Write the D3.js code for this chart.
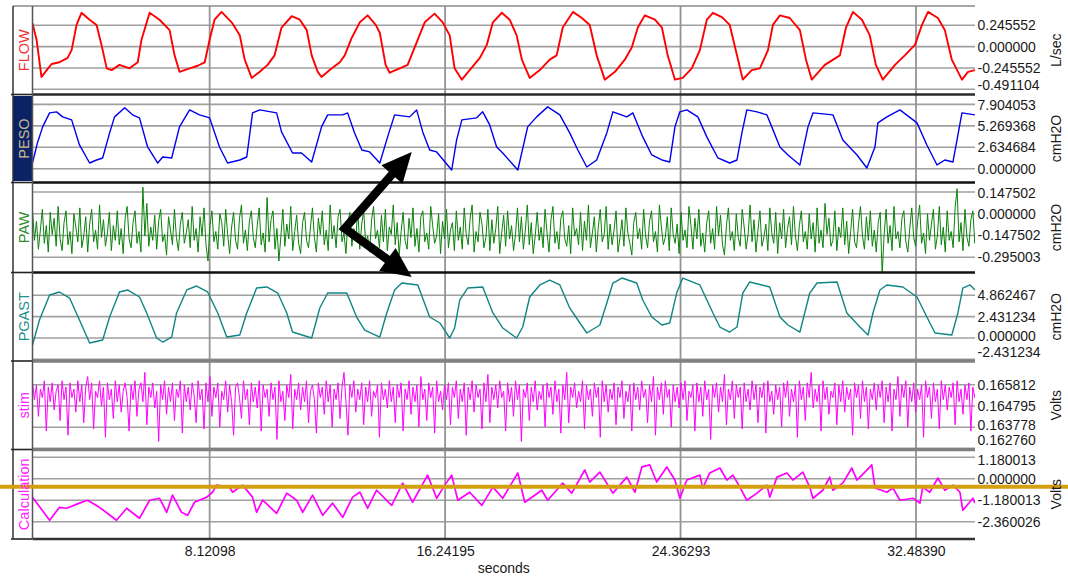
<!DOCTYPE html>
<html>
<head>
<meta charset="utf-8">
<script src="https://cdn.jsdelivr.net/npm/d3@7"></script>
<style>
  body { margin: 0; background: #fff; }
  svg { display: block; font-family: "Liberation Sans", Arial, sans-serif; }
</style>
</head>
<body>
<svg id="chart" width="1068" height="577"></svg>
<script>
/* ---------------- data ---------------- */

const timeRange = [2.01, 34.52]
const timeTicks = [8.12098, 16.24195, 24.36293, 32.48390]

const flowTicks = [0.245552, 0, -0.245552, -0.491104]
const pesoTicks = [7.904053, 5.269368, 2.634684, 0]
const pawTicks = [0.147502, 0, -0.147502, -0.295003]
const pgastTicks = [4.862467, 2.431234, 0, -2.431234]
const stimTicks = [0.165812, 0.164795, 0.163778, 0.162760]
const calcTicks = [1.180013, 0, -1.180013, -2.360026]

// [seconds, L/sec]
const flowData = [[2.01,.27],[2.15,.08],[2.32,-.35],[2.50,-.27],[2.67,-.20],[2.94,-.18],[3.22,-.13],[3.36,-.04],[3.53,.25],[3.70,.39],[3.98,.31],[4.22,.25],[4.39,.02],[4.57,-.25],[4.74,-.27],[5.01,-.21],[5.36,-.25],[5.64,-.18],[5.77,.08],[6.05,.39],[6.39,.31],[6.74,.19],[6.91,-.10],[7.08,-.29],[7.43,-.25],[7.71,-.22],[7.95,-.18],[8.12,.08],[8.29,.31],[8.53,.40],[8.88,.28],[9.16,.13],[9.33,-.15],[9.57,-.36],[9.85,-.29],[10.12,-.21],[10.36,-.10],[10.60,.22],[10.95,.35],[11.23,.31],[11.47,.19],[11.64,-.10],[11.85,-.29],[11.98,-.35],[12.26,-.27],[12.61,-.18],[12.78,-.10],[13.02,.10],[13.30,.28],[13.57,.36],[13.85,.25],[13.99,.16],[14.19,-.21],[14.33,-.30],[14.68,-.25],[14.95,-.21],[15.30,.08],[15.54,.28],[15.88,.38],[16.16,.28],[16.40,.13],[16.57,-.25],[16.82,-.38],[17.09,-.27],[17.44,-.13],[17.68,.02],[17.89,.28],[18.20,.39],[18.47,.31],[18.71,.13],[18.89,-.15],[19.16,-.36],[19.51,-.27],[19.85,-.15],[20.09,-.10],[20.30,.22],[20.65,.40],[20.96,.33],[21.23,.25],[21.47,-.10],[21.75,-.38],[22.10,-.29],[22.44,-.15],[22.68,-.01],[22.89,.22],[23.13,.36],[23.48,.31],[23.72,.22],[23.92,-.10],[24.17,-.38],[24.44,-.36],[24.75,-.25],[25.03,-.04],[25.27,.31],[25.48,.39],[25.79,.34],[26.06,.25],[26.31,-.10],[26.51,-.38],[26.82,-.27],[27.10,-.25],[27.38,-.04],[27.55,.25],[27.79,.36],[28.13,.33],[28.48,.19],[28.69,-.15],[28.89,-.38],[29.34,-.21],[29.86,-.10],[30.07,.22],[30.31,.40],[30.62,.31],[30.89,.13],[31.10,-.21],[31.34,-.38],[31.76,-.21],[32.10,-.10],[32.45,.02],[32.69,.25],[32.90,.40],[33.24,.33],[33.48,.19],[33.72,-.15],[34.07,-.38],[34.28,-.29],[34.52,-.27]]

// [seconds, cmH2O]
const pesoData = [[2.01,.70],[2.18,3.17],[2.36,5.14],[2.60,6.86],[2.84,6.99],[3.05,6.37],[3.36,6.00],[3.63,2.92],[3.98,.70],[4.22,1.07],[4.43,1.32],[4.67,4.40],[4.84,6.37],[5.19,7.48],[5.46,6.62],[5.70,6.25],[5.98,2.67],[6.33,.70],[6.50,1.44],[6.81,1.32],[7.08,5.14],[7.43,7.23],[7.77,6.62],[8.12,6.25],[8.46,2.67],[8.74,.70],[9.16,1.07],[9.40,1.44],[9.60,6.86],[9.85,7.23],[10.43,6.86],[10.60,4.52],[10.98,1.93],[11.29,1.93],[11.64,.83],[11.98,5.14],[12.19,6.62],[12.71,6.62],[12.88,6.86],[13.12,4.40],[13.37,2.30],[13.64,2.06],[13.99,.70],[14.26,3.91],[14.50,6.62],[15.02,6.37],[15.26,7.23],[15.47,4.52],[15.71,2.30],[15.95,2.06],[16.47,-.16],[16.64,3.54],[16.82,6.00],[17.33,6.25],[17.54,6.99],[17.78,5.38],[18.02,2.67],[18.23,1.93],[18.75,-.16],[19.09,5.14],[19.40,6.37],[19.78,7.60],[20.20,6.62],[20.54,4.40],[20.82,2.30],[21.13,.21],[21.47,1.07],[21.82,4.40],[22.03,6.99],[22.51,6.37],[22.72,6.86],[23.06,3.91],[23.37,1.69],[23.72,1.07],[23.99,.83],[24.17,5.14],[24.34,6.99],[24.58,7.23],[24.96,6.37],[25.27,3.91],[25.65,1.32],[26.06,.70],[26.31,1.07],[26.48,4.40],[26.65,7.23],[27.00,6.99],[27.34,6.62],[27.51,5.14],[27.79,2.67],[28.07,1.69],[28.48,.46],[28.76,5.14],[28.93,6.86],[29.62,6.62],[29.96,3.54],[30.45,1.69],[30.79,.09],[31.07,2.67],[31.17,5.63],[31.48,6.37],[31.93,7.23],[32.52,5.63],[32.86,2.92],[33.21,.46],[33.48,1.07],[33.76,.83],[33.90,3.54],[34.07,6.86],[34.52,6.62]]

// [seconds, cmH2O]
const pgastData = [[2.01,-.80],[2.25,2.05],[2.60,4.90],[2.94,5.24],[3.29,4.55],[3.63,2.05],[3.98,-.57],[4.43,-.23],[4.67,2.39],[5.01,5.24],[5.29,5.47],[5.70,4.67],[5.95,2.85],[6.29,0],[6.50,-.46],[6.81,.11],[6.98,2.85],[7.33,5.47],[7.67,5.92],[8.05,5.24],[8.40,2.85],[8.71,.11],[9.16,.34],[9.40,2.85],[9.74,5.69],[10.09,5.81],[10.47,5.12],[10.78,2.85],[10.98,.68],[11.64,0],[11.92,3.42],[12.19,5.12],[12.85,5.12],[13.19,2.39],[13.47,.91],[13.99,.11],[14.23,2.85],[14.50,5.47],[14.75,6.26],[15.30,6.04],[15.71,2.39],[16.06,1.71],[16.40,0],[16.57,1.14],[16.75,4.33],[17.02,5.69],[17.54,5.81],[17.89,2.85],[18.23,1.14],[18.71,0],[18.92,1.25],[19.16,4.67],[19.51,6.04],[19.85,6.60],[20.20,6.04],[20.54,3.42],[20.89,1.71],[21.13,.57],[21.58,1.48],[21.82,3.99],[22.03,6.26],[22.34,6.83],[22.85,6.26],[23.06,4.33],[23.37,2.39],[23.72,1.48],[23.99,1.71],[24.23,5.12],[24.44,6.83],[25.03,6.04],[25.48,2.85],[25.72,1.25],[26.06,.68],[26.31,1.25],[26.51,5.12],[26.75,6.38],[27.44,5.81],[27.79,2.39],[28.07,1.48],[28.48,.68],[28.82,5.12],[29.07,6.26],[29.76,6.38],[30.10,2.85],[30.55,1.25],[30.83,.34],[31.00,2.85],[31.24,5.47],[31.48,6.04],[32.03,5.81],[32.52,4.67],[32.86,2.39],[33.14,.57],[33.72,.34],[33.93,2.85],[34.10,5.69],[34.35,6.04],[34.52,5.47]]

// [seconds, Volts]
const calcData = [[2.01,-1.01],[2.60,-2.28],[2.94,-1.57],[3.19,-1.62],[3.63,-1.34],[3.91,-1.18],[4.32,-1.57],[4.91,-2.28],[5.26,-1.62],[5.70,-2.17],[6.05,-1.18],[6.39,-1.07],[6.64,-1.84],[6.84,-.90],[7.15,-1.84],[7.36,-2.01],[7.60,-1.29],[8.02,-1.01],[8.22,-.74],[8.36,-.35],[8.81,-.46],[8.91,-.74],[9.26,-.35],[9.60,-1.01],[9.74,-1.84],[9.95,-1.18],[10.43,-1.90],[10.78,-.79],[11.12,-1.18],[11.33,-1.84],[11.67,-.90],[12.02,-2.01],[12.36,-1.34],[12.71,-2.12],[13.05,-1.01],[13.30,-.74],[13.57,-1.62],[13.88,-.63],[14.40,-1.46],[14.78,-.24],[15.12,-1.29],[15.64,.20],[15.95,-1.07],[16.23,-.35],[16.47,.20],[16.68,-1.18],[17.09,-.74],[17.51,-1.46],[17.89,-.46],[18.23,-1.07],[18.75,.32],[18.99,-1.29],[19.58,-.63],[19.78,-1.18],[20.30,-.24],[20.61,-.79],[21.06,.48],[21.23,-.18],[21.58,.37],[22.03,-.79],[22.51,.09],[22.79,-.74],[23.03,.65],[23.30,.76],[23.54,-.18],[23.89,.65],[24.17,-.07],[24.34,-1.07],[24.58,-.07],[25.03,.20],[25.13,-.51],[25.37,.32],[25.72,.59],[25.96,-.07],[26.17,.20],[26.41,-.46],[26.65,-1.18],[27.00,-.79],[27.34,-.35],[27.44,-1.01],[27.69,.09],[28.03,.32],[28.24,-.07],[28.58,.37],[28.82,-.46],[28.93,-1.07],[29.27,-.63],[29.51,.09],[29.62,-.63],[29.96,-.24],[30.27,.59],[30.45,-.07],[30.79,.48],[30.96,.76],[31.07,-.51],[31.48,-.74],[31.69,-.51],[31.93,-1.18],[32.38,-1.07],[32.62,-1.34],[32.72,-.46],[32.96,-.74],[33.24,.04],[33.48,-.63],[33.76,-.35],[34.00,-.74],[34.10,-1.73],[34.45,-1.07],[34.52,-1.34]]
const calcMarker = -0.443

// PAW and stim are evenly sampled from timeRange[0]
const sampleStep = 0.068
const pawValues = [
  .02,-.18,-.05,-.24,-.11,.03,-.20,-.08,-.26,.01,-.14,-.03,-.22,.05,-.17,-.25,-.06,.02,-.21,-.12,-.27,.00,-.09,-.19,
  .04,-.23,-.15,-.02,-.26,-.07,.03,-.19,-.11,-.24,.06,-.16,-.04,-.22,-.13,.01,-.25,-.08,-.18,.02,-.21,-.10,-.27,-.03,
  .05,-.17,-.23,-.06,.02,-.20,-.12,-.26,.18,-.15,.07,-.22,-.09,-.18,-.01,-.24,-.05,.03,-.19,-.14,-.28,-.02,-.11,-.21,
  .03,-.16,-.25,-.07,.01,-.20,-.13,-.04,-.23,.05,-.18,-.10,-.26,-.02,-.15,.04,-.21,-.32,-.08,.02,-.19,-.12,-.24,.00,
  -.06,-.22,.03,-.14,-.27,-.09,.01,-.18,-.24,-.03,.06,-.20,-.11,-.25,-.05,.02,-.16,-.23,-.08,.04,-.21,-.13,-.26,.11,
  -.19,-.04,.02,-.24,-.10,-.32,-.15,.03,-.22,-.07,-.17,.05,-.25,-.12,-.01,-.20,-.27,-.06,.01,-.18,-.23,-.09,.04,-.16,
  -.26,-.03,-.14,.02,-.21,-.11,-.25,.06,-.17,-.08,-.23,-.02,.03,-.19,-.13,-.27,-.05,.01,-.22,-.10,-.18,.04,-.24,-.07,
  .02,-.20,-.15,-.26,-.04,.05,-.17,-.11,-.23,-.01,-.19,.03,-.25,-.09,-.14,.06,-.21,-.06,-.28,-.12,.01,-.18,-.24,-.03,
  -.16,.04,-.22,-.10,-.26,-.02,.02,-.19,-.13,-.24,.05,-.08,-.20,-.15,.00,-.27,-.05,-.17,.03,-.23,-.11,-.06,-.25,.02,
  -.18,-.09,-.24,.04,-.14,-.21,-.03,.06,-.26,-.12,-.19,.01,-.07,-.23,-.16,.03,-.25,-.04,-.20,-.10,.05,-.27,-.13,-.01,
  -.22,.02,-.17,-.08,-.25,-.14,.04,-.19,-.02,-.24,-.11,.06,-.21,-.06,-.27,-.15,.01,-.18,-.09,-.23,.03,-.13,-.26,-.04,
  .05,-.20,-.12,-.24,-.03,.02,-.17,-.22,-.08,-.27,.04,-.15,-.10,-.21,.01,-.25,-.05,-.18,.06,-.23,-.13,-.02,-.26,-.09,
  .03,-.19,-.14,.05,-.24,-.07,-.21,-.11,.02,-.26,-.16,-.04,-.22,.04,-.13,-.20,-.28,-.06,.01,-.17,-.10,-.24,.03,-.15,
  -.23,-.05,.02,-.19,-.12,-.26,.06,-.09,-.21,-.16,-.02,-.25,.04,-.14,-.20,-.07,-.27,.01,-.18,-.11,-.23,.05,-.08,-.24,
  -.03,-.17,.03,-.22,-.13,-.26,-.06,.02,-.20,-.10,-.24,.05,-.15,-.01,-.21,-.28,-.08,.04,-.18,-.12,-.25,.00,-.16,-.22,
  .03,-.09,-.24,-.14,.06,-.19,-.04,-.26,-.11,.02,-.22,-.16,-.07,-.25,.04,-.13,-.20,.01,-.27,-.06,-.17,.03,-.23,-.10,
  -.02,-.21,.05,-.15,-.25,-.08,.02,-.19,-.12,-.24,.00,-.17,-.06,-.26,.04,-.20,-.11,-.23,.07,-.14,-.03,-.22,-.18,.02,
  -.25,-.09,-.16,.04,-.21,-.05,-.27,-.12,.03,-.19,-.23,-.07,.05,-.15,-.24,-.02,-.18,.02,-.22,-.11,-.26,-.06,.01,-.41,
  -.14,.03,-.20,-.08,-.25,.05,-.17,-.12,-.23,-.03,.02,-.19,-.26,-.10,.04,-.16,-.22,-.05,.06,-.20,-.13,-.27,.00,-.18,
  -.07,.03,-.24,-.15,.05,-.21,-.09,-.26,.02,-.18,-.12,-.23,.04,.17,-.19,-.06,-.25,.03,-.16,-.22,-.04,.02,-.20,-.11
]
const stimValues = [
  .1659,.1651,.1658,.1643,.1656,.1652,.1660,.1636,.1657,.1650,.1659,.1646,.1655,.1658,.1641,.1660,.1651,.1657,.1634,.1659,.1652,.1656,.1645,.1660,
  .1650,.1658,.1640,.1657,.1662,.1651,.1659,.1637,.1655,.1652,.1660,.1648,.1657,.1633,.1659,.1651,.1656,.1642,.1660,.1650,.1658,.1645,.1655,.1659,
  .1652,.1636,.1658,.1651,.1660,.1643,.1656,.1659,.1650,.1664,.1639,.1657,.1652,.1659,.1647,.1655,.1631,.1658,.1651,.1660,.1644,.1657,.1650,.1659,
  .1641,.1656,.1652,.1660,.1635,.1658,.1650,.1657,.1646,.1659,.1653,.1640,.1660,.1651,.1656,.1637,.1659,.1650,.1662,.1643,.1657,.1652,.1659,.1638,
  .1655,.1651,.1660,.1645,.1658,.1650,.1634,.1657,.1659,.1652,.1642,.1660,.1651,.1656,.1639,.1659,.1650,.1657,.1647,.1660,.1636,.1658,.1652,.1656,
  .1643,.1659,.1651,.1657,.1632,.1660,.1650,.1655,.1641,.1658,.1652,.1663,.1637,.1656,.1651,.1659,.1646,.1657,.1650,.1660,.1640,.1655,.1658,.1651,
  .1635,.1659,.1652,.1657,.1644,.1660,.1650,.1658,.1638,.1656,.1651,.1659,.1642,.1657,.1664,.1650,.1634,.1658,.1652,.1660,.1645,.1656,.1651,.1659,
  .1639,.1657,.1650,.1660,.1643,.1655,.1652,.1658,.1633,.1659,.1651,.1656,.1647,.1660,.1650,.1657,.1640,.1658,.1652,.1659,.1636,.1656,.1651,.1660,
  .1644,.1657,.1650,.1658,.1638,.1662,.1651,.1656,.1641,.1659,.1652,.1657,.1635,.1660,.1650,.1655,.1646,.1658,.1651,.1659,.1639,.1657,.1652,.1660,
  .1642,.1656,.1650,.1659,.1634,.1657,.1651,.1660,.1645,.1658,.1652,.1656,.1637,.1659,.1650,.1663,.1640,.1657,.1651,.1658,.1647,.1660,.1652,.1655,
  .1636,.1659,.1650,.1657,.1643,.1660,.1651,.1658,.1631,.1656,.1652,.1659,.1641,.1657,.1650,.1660,.1646,.1655,.1651,.1658,.1638,.1659,.1652,.1657,
  .1644,.1660,.1650,.1656,.1635,.1658,.1651,.1664,.1640,.1657,.1652,.1659,.1647,.1655,.1650,.1660,.1637,.1658,.1651,.1656,.1643,.1659,.1652,.1657,
  .1633,.1660,.1650,.1658,.1645,.1656,.1651,.1659,.1639,.1657,.1652,.1660,.1642,.1655,.1650,.1658,.1636,.1659,.1651,.1657,.1646,.1660,.1652,.1656,
  .1640,.1658,.1650,.1662,.1634,.1657,.1651,.1659,.1644,.1660,.1652,.1656,.1638,.1658,.1650,.1657,.1647,.1659,.1651,.1660,.1641,.1655,.1652,.1658,
  .1636,.1659,.1650,.1657,.1643,.1660,.1651,.1656,.1632,.1658,.1652,.1659,.1645,.1657,.1650,.1663,.1639,.1656,.1651,.1660,.1642,.1658,.1652,.1657,
  .1637,.1659,.1650,.1656,.1646,.1660,.1651,.1658,.1640,.1657,.1652,.1659,.1635,.1660,.1650,.1655,.1644,.1658,.1651,.1657,.1638,.1659,.1652,.1660,
  .1643,.1656,.1650,.1658,.1633,.1660,.1651,.1657,.1641,.1659,.1652,.1664,.1647,.1656,.1650,.1658,.1636,.1660,.1651,.1657,.1644,.1655,.1652,.1659,
  .1639,.1658,.1650,.1660,.1645,.1657,.1651,.1656,.1634,.1659,.1652,.1658,.1642,.1660,.1650,.1657,.1637,.1656,.1651,.1659,.1646,.1658,.1652,.1660,
  .1640,.1657,.1650,.1659,.1636,.1656,.1651,.1662,.1643,.1658,.1652,.1660,.1638,.1657,.1650,.1659,.1645,.1656,.1651,.1658,.1633,.1660,.1652,.1657,
  .1642,.1659,.1650,.1656,.1637,.1660,.1651,.1658,.1646,.1657,.1652,.1659,.1639,.1660,.1650,.1656,.1644,.1658,.1651,.1659,.1636,.1657,.1652,.1658
]

// annotation arrows, in (seconds, panel, value)
const arrowJoint = { t: 12.78, panel: 2, v: -0.10 }
const arrowTips = [{ t: 15.09, panel: 1, v: 2.06 }, { t: 15.09, panel: 3, v: 6.95 }]

/* ---------------- layout ---------------- */

const colLeft = 13, plotLeft = 32.5, plotRight = 975, plotTop = 6, plotBottom = 539

const panels = [
  { name: 'FLOW', unit: 'L/sec', color: '#ff0000', label: '#f03232', width: 1.9, top: 6, bottom: 94.5, domain: [-0.551, 0.468], ticks: flowTicks, sep: '#2a2a2a' },
  { name: 'PESO', unit: 'cmH2O', color: '#0000ee', label: '#cbbb8c', fill: '#0b2266', width: 1.4, top: 94.5, bottom: 182.5, domain: [-1.696, 9.121], ticks: pesoTicks, sep: '#111' },
  { name: 'PAW', unit: 'cmH2O', color: '#0a820a', label: '#2e8b2e', width: 1, top: 182.5, bottom: 272.5, domain: [-0.398, 0.212], ticks: pawTicks, sep: '#111' },
  { name: 'PGAST', unit: 'cmH2O', color: '#108585', label: '#1f8f8f', width: 1.4, top: 272.5, bottom: 361, domain: [-2.619, 7.459], ticks: pgastTicks, sep: '#808080' },
  { name: 'stim', unit: 'Volts', color: '#ff00ff', label: '#ff22ff', width: 1, top: 361, bottom: 449.5, domain: [0.162718, 0.166944], ticks: stimTicks, sep: '#808080' },
  { name: 'Calculation', unit: 'Volts', color: '#ff00ff', label: '#ff22ff', width: 1.7, top: 449.5, bottom: 539, domain: [-3.311, 1.609], ticks: calcTicks, sep: '#333' }
]

const pawData = pawValues.map((v, i) => [timeRange[0] + i * sampleStep, v])
const stimData = stimValues.map((v, i) => [timeRange[0] + i * sampleStep, v])
const series = [flowData, pesoData, pawData, pgastData, stimData, calcData]

/* ---------------- drawing ---------------- */

const svg = d3.select('#chart')
const x = d3.scaleLinear().domain(timeRange).range([plotLeft, plotRight])

panels.forEach(function (p) {
  p.y = d3.scaleLinear().domain(p.domain).range([p.bottom, p.top])
})

// PESO label box
panels.filter(p => p.fill).forEach(function (p) {
  svg.append('rect')
    .attr('x', colLeft).attr('y', p.top + 1.5)
    .attr('width', plotLeft - colLeft).attr('height', p.bottom - p.top - 3)
    .attr('fill', p.fill)
})

// horizontal gridlines
panels.forEach(function (p) {
  svg.append('g').selectAll('line')
    .data(p.ticks)
    .enter().append('line')
    .attr('x1', plotLeft).attr('x2', plotRight)
    .attr('y1', d => p.y(d)).attr('y2', d => p.y(d))
    .attr('stroke', '#a0a0a0').attr('stroke-width', 1.6)
})

// vertical gridlines
svg.append('g').selectAll('line')
  .data(timeTicks)
  .enter().append('line')
  .attr('x1', d => x(d)).attr('x2', d => x(d))
  .attr('y1', plotTop).attr('y2', plotBottom)
  .attr('stroke', '#949494').attr('stroke-width', 1.8)

// traces
const defs = svg.append('defs')
panels.forEach(function (p, i) {
  defs.append('clipPath').attr('id', 'clip' + i)
    .append('rect')
    .attr('x', plotLeft).attr('y', p.top + 1)
    .attr('width', plotRight - plotLeft).attr('height', p.bottom - p.top - 1)

  let line = d3.line().x(d => x(d[0])).y(d => p.y(d[1]))
  svg.append('path')
    .datum(series[i])
    .attr('clip-path', 'url(#clip' + i + ')')
    .attr('d', line)
    .attr('fill', 'none')
    .attr('stroke', p.color)
    .attr('stroke-width', p.width)
    .attr('stroke-linejoin', 'round')
})

// panel separators
svg.append('line')
  .attr('x1', colLeft).attr('x2', plotRight)
  .attr('y1', plotTop).attr('y2', plotTop)
  .attr('stroke', '#8a8a8a').attr('stroke-width', 1.5)

panels.forEach(function (p) {
  let gray = p.sep === '#808080'
  svg.append('line')
    .attr('x1', colLeft - 2).attr('x2', plotLeft)
    .attr('y1', p.bottom).attr('y2', p.bottom)
    .attr('stroke', '#222').attr('stroke-width', 1.6)
  svg.append('line')
    .attr('x1', plotLeft).attr('x2', plotRight)
    .attr('y1', p.bottom).attr('y2', p.bottom)
    .attr('stroke', p.sep).attr('stroke-width', gray ? 3.6 : 2.6)
})

// column frame
svg.append('line')
  .attr('x1', colLeft).attr('x2', colLeft)
  .attr('y1', plotTop).attr('y2', plotBottom)
  .attr('stroke', '#333').attr('stroke-width', 1.5)
svg.append('line')
  .attr('x1', plotLeft).attr('x2', plotLeft)
  .attr('y1', plotTop).attr('y2', plotBottom)
  .attr('stroke', '#555').attr('stroke-width', 1.5)

// marker line across the Calculation panel
let calcPanel = panels[5]
svg.append('line')
  .attr('x1', 0).attr('x2', 1068)
  .attr('y1', calcPanel.y(calcMarker)).attr('y2', calcPanel.y(calcMarker))
  .attr('stroke', '#d4a012').attr('stroke-width', 4)

// channel names
panels.forEach(function (p) {
  svg.append('text')
    .attr('transform', 'translate(' + 28.5 + ',' + (p.top + p.bottom) / 2 + ') rotate(-90)')
    .attr('text-anchor', 'middle')
    .attr('font-size', 14.5)
    .attr('fill', p.label)
    .text(p.name)
})

// value labels, pushed inside the panel when near its edge
panels.forEach(function (p) {
  let ys = p.ticks.map(d => p.y(d))
  let placed = []
  for (let i = ys.length - 1; i >= 0; i--) {
    let yy = Math.min(ys[i], p.bottom - 9)
    if (placed.length) yy = Math.min(yy, placed[placed.length - 1] - 15.8)
    yy = Math.max(yy, p.top + 11)
    placed.push(yy)
  }
  placed.reverse()
  svg.append('g').selectAll('text')
    .data(p.ticks)
    .enter().append('text')
    .attr('x', plotRight + 2.5)
    .attr('y', (d, i) => placed[i])
    .attr('dy', '0.35em')
    .attr('font-size', 14)
    .attr('fill', '#1a1a1a')
    .text(d => d.toFixed(6))

  svg.append('text')
    .attr('transform', 'translate(' + 1061 + ',' + (p.top + p.bottom) / 2 + ') rotate(-90)')
    .attr('text-anchor', 'middle')
    .attr('font-size', 14)
    .attr('fill', '#1a1a1a')
    .text(p.unit)
})

// time axis
let axis = svg.append('g')
  .attr('transform', 'translate(0,' + plotBottom + ')')
  .call(d3.axisBottom(x).tickValues(timeTicks).tickFormat(d => d.toFixed(5)).tickSize(0).tickPadding(7))
axis.select('.domain').remove()
axis.selectAll('text')
  .attr('font-size', 14)
  .attr('font-family', '"Liberation Sans", Arial, sans-serif')
  .attr('fill', '#1a1a1a')

svg.append('text')
  .attr('x', (plotLeft + plotRight) / 2)
  .attr('y', 573)
  .attr('text-anchor', 'middle')
  .attr('font-size', 14)
  .attr('fill', '#1a1a1a')
  .text('seconds')

/* ---------------- arrows ---------------- */

function panelPoint(a) {
  return [x(a.t), panels[a.panel].y(a.v)]
}

let joint = panelPoint(arrowJoint)
let headLen = 30, headHalf = 14
let shaftEnds = []
arrowTips.forEach(function (tip) {
  let t = panelPoint(tip)
  let dx = t[0] - joint[0], dy = t[1] - joint[1]
  let len = Math.hypot(dx, dy)
  let ux = dx / len, uy = dy / len
  let b = [t[0] - ux * headLen, t[1] - uy * headLen]
  shaftEnds.push([t[0] - ux * (headLen - 4), t[1] - uy * (headLen - 4)])
  svg.append('polygon')
    .attr('points', [t, [b[0] - uy * headHalf, b[1] + ux * headHalf], [b[0] + uy * headHalf, b[1] - ux * headHalf]].map(q => q.join(',')).join(' '))
    .attr('fill', '#000')
})
svg.append('path')
  .attr('d', d3.line()([shaftEnds[0], joint, shaftEnds[1]]))
  .attr('fill', 'none')
  .attr('stroke', '#000')
  .attr('stroke-width', 8.5)
  .attr('stroke-linejoin', 'miter')
  .attr('stroke-miterlimit', 10)
</script>
</body>
</html>
